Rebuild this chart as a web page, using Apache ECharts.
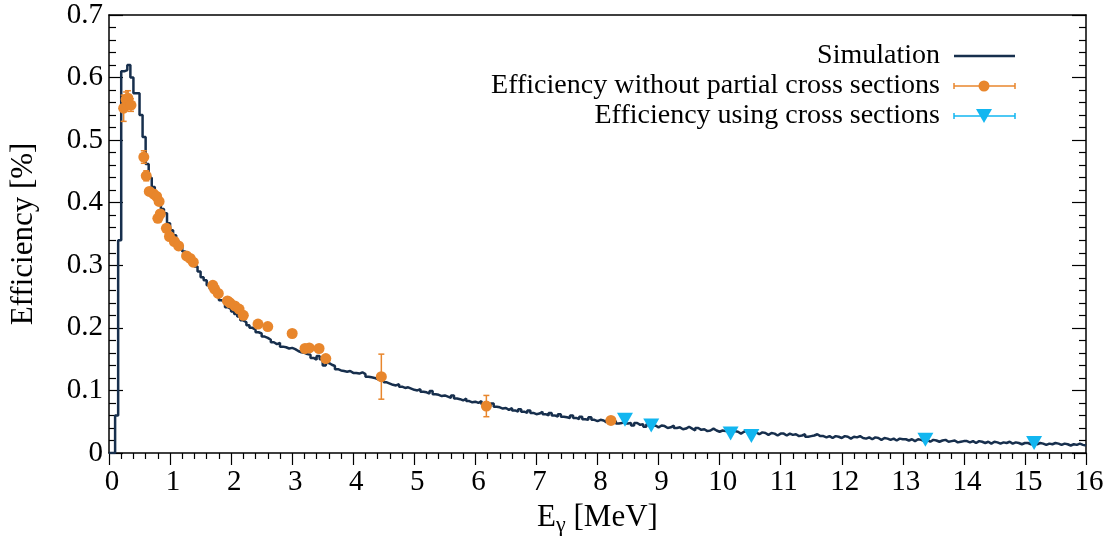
<!DOCTYPE html>
<html>
<head>
<meta charset="utf-8">
<script src="https://cdn.jsdelivr.net/npm/echarts@6/dist/echarts.min.js"></script>
<style>
  html, body { margin: 0; padding: 0; background: #fff; }
  #chart { width: 1112px; height: 538px; }
</style>
</head>
<body>
<div id="chart"></div>
<script>
// Simulated detection efficiency, histogram with 0.05 MeV bins starting at 0 MeV
const BIN_WIDTH = 0.05;
const simEfficiency = [
  0.000, 0.000, 0.060, 0.340, 0.610, 0.612, 0.620, 0.600, 0.575, 0.575, 0.540, 0.505, 0.462, 0.440, 0.425, 0.412, 0.400, 0.390, 0.383, 0.367,
  0.356, 0.348, 0.338, 0.331, 0.322, 0.316, 0.309, 0.303, 0.298, 0.290, 0.281, 0.276, 0.268, 0.262, 0.257, 0.252, 0.244, 0.241, 0.233, 0.230,
  0.226, 0.222, 0.218, 0.212, 0.209, 0.204, 0.200, 0.197, 0.193, 0.191, 0.186, 0.184, 0.181, 0.177, 0.174, 0.176, 0.170, 0.169, 0.167, 0.168,
  0.166, 0.163, 0.161, 0.160, 0.158, 0.157, 0.152, 0.149, 0.155, 0.150, 0.140, 0.144, 0.141, 0.139, 0.134, 0.132, 0.131, 0.130, 0.131, 0.128,
  0.128, 0.127, 0.129, 0.126, 0.122, 0.121, 0.120, 0.118, 0.116, 0.117, 0.113, 0.111, 0.109, 0.108, 0.110, 0.106, 0.104, 0.105, 0.103, 0.101,
  0.100, 0.102, 0.098, 0.097, 0.095, 0.099, 0.094, 0.093, 0.091, 0.092, 0.090, 0.088, 0.092, 0.087, 0.086, 0.084, 0.087, 0.083, 0.081, 0.082,
  0.080, 0.083, 0.078, 0.077, 0.075, 0.079, 0.074, 0.073, 0.071, 0.072, 0.069, 0.072, 0.068, 0.066, 0.070, 0.066, 0.064, 0.068, 0.064, 0.062,
  0.063, 0.066, 0.062, 0.060, 0.064, 0.060, 0.058, 0.062, 0.058, 0.057, 0.056, 0.060, 0.056, 0.054, 0.058, 0.054, 0.053, 0.057, 0.053, 0.051,
  0.053, 0.052, 0.049, 0.053, 0.050, 0.051, 0.047, 0.048, 0.051, 0.047, 0.048, 0.044, 0.048, 0.045, 0.046, 0.042, 0.046, 0.043, 0.044, 0.041,
  0.044, 0.043, 0.040, 0.041, 0.044, 0.040, 0.041, 0.038, 0.039, 0.042, 0.039, 0.036, 0.040, 0.037, 0.038, 0.035, 0.036, 0.039, 0.036, 0.034,
  0.036, 0.035, 0.038, 0.034, 0.035, 0.034, 0.031, 0.034, 0.036, 0.034, 0.034, 0.033, 0.030, 0.033, 0.032, 0.029, 0.032, 0.031, 0.028, 0.031,
  0.031, 0.028, 0.031, 0.029, 0.030, 0.027, 0.028, 0.030, 0.026, 0.027, 0.028, 0.030, 0.027, 0.027, 0.025, 0.027, 0.024, 0.027, 0.026, 0.024,
  0.027, 0.026, 0.023, 0.026, 0.025, 0.027, 0.024, 0.023, 0.025, 0.022, 0.025, 0.024, 0.021, 0.024, 0.023, 0.021, 0.023, 0.020, 0.023, 0.022,
  0.022, 0.020, 0.022, 0.019, 0.022, 0.021, 0.019, 0.021, 0.018, 0.021, 0.020, 0.018, 0.020, 0.021, 0.018, 0.019, 0.020, 0.017, 0.018, 0.019,
  0.019, 0.017, 0.019, 0.016, 0.019, 0.018, 0.016, 0.018, 0.015, 0.018, 0.017, 0.015, 0.017, 0.016, 0.018, 0.015, 0.017, 0.016, 0.014, 0.016,
  0.016, 0.014, 0.016, 0.014, 0.016, 0.015, 0.013, 0.015, 0.014, 0.016, 0.015, 0.013, 0.015, 0.014, 0.012, 0.014, 0.013, 0.015, 0.013, 0.012
];

// Measured efficiency without partial cross sections
const noXsEnergy = [0.24, 0.28, 0.31, 0.36, 0.57, 0.61, 0.66, 0.73, 0.78, 0.82, 0.80, 0.84, 0.94, 0.99, 1.07, 1.14, 1.27, 1.33, 1.38,
  1.70, 1.73, 1.79, 1.94, 1.98, 2.06, 2.13, 2.20, 2.44, 2.60, 3.00, 3.21, 3.28, 3.44, 3.55, 4.46, 6.18, 8.22];
const noXsEff = [0.551, 0.565, 0.567, 0.556, 0.473, 0.443, 0.418, 0.414, 0.410, 0.402, 0.375, 0.382, 0.359, 0.346, 0.338, 0.331, 0.315, 0.311, 0.305,
  0.268, 0.262, 0.255, 0.243, 0.240, 0.235, 0.230, 0.220, 0.206, 0.202, 0.191, 0.167, 0.168, 0.167, 0.151, 0.122, 0.075, 0.052];
const noXsErr = [0.021, 0.012, 0.012, 0.010, 0.010, 0.008, 0.006, 0.006, 0.006, 0.006, 0.006, 0.006, 0.005, 0.005, 0.005, 0.005, 0.005, 0.005, 0.005,
  0.004, 0.004, 0.004, 0.004, 0.004, 0.004, 0.004, 0.004, 0.004, 0.004, 0.004, 0.004, 0.004, 0.004, 0.004, 0.036, 0.017, 0.002];

// Efficiency using cross sections
const xsEnergy = [8.45, 8.88, 10.18, 10.52, 13.37, 15.15];
const xsEff = [0.053, 0.044, 0.031, 0.027, 0.021, 0.016];

const xTicks = { min: 0, max: 16, step: 1 };
const yTicks = { min: 0, max: 0.7, step: 0.1 };

const FONT = '"Liberation Serif", "Times New Roman", serif';
const NAVY = '#172f4d';
const ORANGE = '#e8862c';
const BLUE = '#12b6f0';

const histData = simEfficiency.map((v, i) => [i * BIN_WIDTH, v]);
histData.push([simEfficiency.length * BIN_WIDTH, simEfficiency[simEfficiency.length - 1]]);

const noXsData = noXsEnergy.map((e, i) => [e, noXsEff[i], noXsErr[i]]);
const xsData = xsEnergy.map((e, i) => [e, xsEff[i]]);

const chart = echarts.init(document.getElementById('chart'), null, { renderer: 'canvas' });

const axisLabelStyle = { fontFamily: FONT, fontSize: 29, color: '#000' };

function errorBars(color, capHalf) {
  return function (params, api) {
    const x = api.value(0), y = api.value(1), err = api.value(2);
    const top = api.coord([x, y + err]);
    const bot = api.coord([x, y - err]);
    const style = { stroke: color, lineWidth: 1.5 };
    return {
      type: 'group',
      children: [
        { type: 'line', shape: { x1: top[0], y1: top[1], x2: bot[0], y2: bot[1] }, style },
        { type: 'line', shape: { x1: top[0] - capHalf, y1: top[1], x2: top[0] + capHalf, y2: top[1] }, style },
        { type: 'line', shape: { x1: bot[0] - capHalf, y1: bot[1], x2: bot[0] + capHalf, y2: bot[1] }, style }
      ]
    };
  };
}

// Legend entries, drawn as text plus sample strokes
const legendTextX = 940, legendLineX1 = 954, legendLineX2 = 1015, legendMarkX = 984;
const legendRows = [56, 86, 116];
const legendFont = '28px ' + FONT;
const legendGraphics = [
  { type: 'text', x: legendTextX, y: legendRows[0], style: { text: 'Simulation', font: legendFont, fill: '#000', textAlign: 'right', textVerticalAlign: 'middle' } },
  { type: 'line', shape: { x1: legendLineX1, y1: legendRows[0], x2: legendLineX2, y2: legendRows[0] }, style: { stroke: NAVY, lineWidth: 2.5 } },

  { type: 'text', x: legendTextX, y: legendRows[1], style: { text: 'Efficiency without partial cross sections', font: legendFont, fill: '#000', textAlign: 'right', textVerticalAlign: 'middle' } },
  { type: 'line', shape: { x1: legendLineX1, y1: legendRows[1], x2: legendLineX2, y2: legendRows[1] }, style: { stroke: ORANGE, lineWidth: 1.5 } },
  { type: 'line', shape: { x1: legendLineX1, y1: legendRows[1] - 3, x2: legendLineX1, y2: legendRows[1] + 3 }, style: { stroke: ORANGE, lineWidth: 1.5 } },
  { type: 'line', shape: { x1: legendLineX2, y1: legendRows[1] - 3, x2: legendLineX2, y2: legendRows[1] + 3 }, style: { stroke: ORANGE, lineWidth: 1.5 } },
  { type: 'circle', shape: { cx: legendMarkX, cy: legendRows[1], r: 5.5 }, style: { fill: ORANGE } },

  { type: 'text', x: legendTextX, y: legendRows[2], style: { text: 'Efficiency using cross sections', font: legendFont, fill: '#000', textAlign: 'right', textVerticalAlign: 'middle' } },
  { type: 'line', shape: { x1: legendLineX1, y1: legendRows[2], x2: legendLineX2, y2: legendRows[2] }, style: { stroke: BLUE, lineWidth: 1.5 } },
  { type: 'line', shape: { x1: legendLineX1, y1: legendRows[2] - 3, x2: legendLineX1, y2: legendRows[2] + 3 }, style: { stroke: BLUE, lineWidth: 1.5 } },
  { type: 'line', shape: { x1: legendLineX2, y1: legendRows[2] - 3, x2: legendLineX2, y2: legendRows[2] + 3 }, style: { stroke: BLUE, lineWidth: 1.5 } },
  { type: 'polygon', shape: { points: [[legendMarkX - 8, legendRows[2] - 7], [legendMarkX + 8, legendRows[2] - 7], [legendMarkX, legendRows[2] + 7]] }, style: { fill: BLUE } }
];

const option = {
  backgroundColor: '#fff',
  animation: false,
  grid: { left: 109, right: 26, top: 15, bottom: 85, show: false, containLabel: false, outerBoundsMode: 'none' },
  xAxis: [
    {
      type: 'value', min: xTicks.min, max: xTicks.max, interval: xTicks.step, position: 'bottom',
      axisLine: { show: true, onZero: false, lineStyle: { color: '#000', width: 1.5 } },
      axisTick: { show: true, inside: false, length: 12, lineStyle: { color: '#000', width: 1.2 } },
      minorTick: { show: true, splitNumber: 5, length: 6, lineStyle: { color: '#000', width: 1.2 } },
      axisLabel: Object.assign({ margin: 15, padding: [0, 0, 0, 6] }, axisLabelStyle),
      splitLine: { show: false },
      name: 'E{g|γ} [MeV]',
      nameLocation: 'middle',
      nameGap: 47,
      nameTextStyle: {
        fontFamily: FONT, fontSize: 31, color: '#000',
        rich: { g: { fontFamily: FONT, fontSize: 22, color: '#000', padding: [14, 0, 0, 0] } }
      }
    },
    {
      type: 'value', min: xTicks.min, max: xTicks.max, position: 'top',
      axisLine: { show: true, onZero: false, lineStyle: { color: '#000', width: 1.5 } },
      axisTick: { show: false }, axisLabel: { show: false }, splitLine: { show: false }
    }
  ],
  yAxis: [
    {
      type: 'value', min: yTicks.min, max: yTicks.max, interval: yTicks.step, position: 'left',
      axisLine: { show: true, onZero: false, lineStyle: { color: '#000', width: 1.5 } },
      axisTick: { show: true, inside: true, length: 14, lineStyle: { color: '#000', width: 1.2 } },
      minorTick: { show: true, splitNumber: 5, length: 7, lineStyle: { color: '#000', width: 1.2 } },
      axisLabel: Object.assign({ margin: 6, formatter: v => (v === 0 ? '0' : v.toFixed(1)) }, axisLabelStyle),
      splitLine: { show: false },
      name: 'Efficiency [%]',
      nameLocation: 'middle',
      nameGap: 70,
      nameTextStyle: { fontFamily: FONT, fontSize: 31, color: '#000' }
    },
    {
      type: 'value', min: yTicks.min, max: yTicks.max, interval: yTicks.step, position: 'right',
      axisLine: { show: true, onZero: false, lineStyle: { color: '#000', width: 1.5 } },
      axisTick: { show: true, inside: true, length: 14, lineStyle: { color: '#000', width: 1.2 } },
      minorTick: { show: true, splitNumber: 5, length: 7, lineStyle: { color: '#000', width: 1.2 } },
      axisLabel: { show: false }, splitLine: { show: false }
    }
  ],
  series: [
    {
      name: 'Simulation', type: 'line', step: 'end', data: histData,
      showSymbol: false, symbol: 'none',
      lineStyle: { color: NAVY, width: 2.5 }, z: 2
    },
    {
      name: 'noXsErr', type: 'custom', data: noXsData,
      renderItem: errorBars(ORANGE, 3), z: 3, encode: { x: 0, y: 1 }
    },
    {
      name: 'Efficiency without partial cross sections', type: 'scatter', data: noXsData,
      symbol: 'circle', symbolSize: 11, itemStyle: { color: ORANGE, opacity: 1 }, z: 4
    },
    {
      name: 'Efficiency using cross sections', type: 'scatter', data: xsData,
      symbol: 'triangle', symbolRotate: 180, symbolSize: [16, 14], itemStyle: { color: BLUE, opacity: 1 }, z: 5
    }
  ],
  graphic: legendGraphics
};

chart.setOption(option);
</script>
</body>
</html>
